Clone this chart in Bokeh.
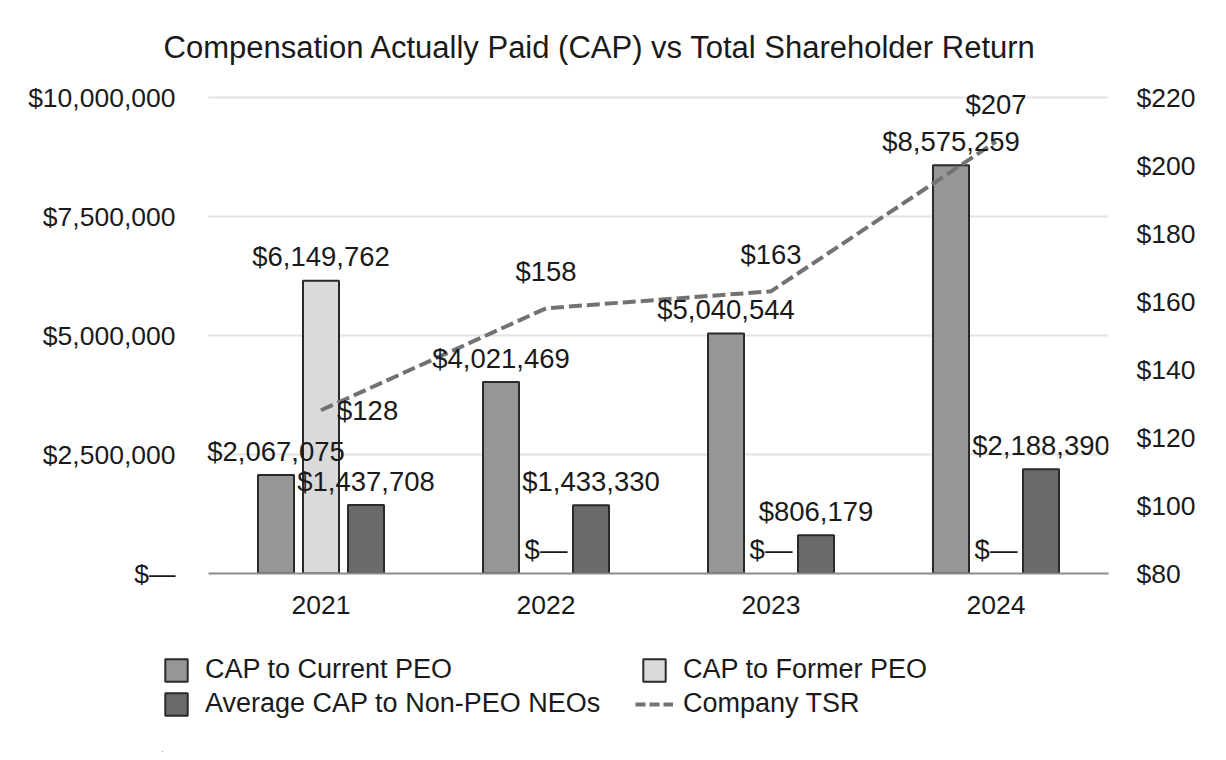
from bokeh.plotting import figure
from bokeh.layouts import column
from bokeh.models import (ColumnDataSource, Range1d, LinearAxis,
                          FixedTicker, Legend, LegendItem)
from bokeh.transform import dodge
from bokeh.core.properties import value
from bokeh.embed import file_html
from bokeh.resources import INLINE

# ---------------- data ----------------
years = ["2021", "2022", "2023", "2024"]
cap_current = [2067075, 4021469, 5040544, 8575259]
cap_former = [6149762, 0, 0, 0]
cap_nonpeo = [1437708, 1433330, 806179, 2188390]
tsr = [128, 158, 163, 207]

left_ticks = [0, 2500000, 5000000, 7500000, 10000000]
left_tick_labels = ["$\u2014", "$2,500,000", "$5,000,000", "$7,500,000", "$10,000,000"]
right_ticks = [80, 100, 120, 140, 160, 180, 200, 220]
right_tick_labels = ["$80", "$100", "$120", "$140", "$160", "$180", "$200", "$220"]

series_names = ["CAP to Current PEO", "CAP to Former PEO",
                "Average CAP to Non-PEO NEOs", "Company TSR"]

TITLE = "Compensation Actually Paid (CAP) vs Total Shareholder Return"
FONT = "Liberation Sans"
TXT = "#1a1a1a"
C_CUR, C_FORMER, C_NON, C_TSR, OUT = "#969696", "#dadada", "#6a6a6a", "#727272", "#2a2a2a"


def money(v):
    return "$\u2014" if v == 0 else "${:,}".format(v)


# category centres on a numeric axis (one unit per year)
xc = [i + 0.5 for i in range(len(years))]
n_cat = len(years)

src = ColumnDataSource(dict(
    xc=xc,
    cur=cap_current, cur_lbl=[money(v) for v in cap_current],
    former=cap_former, former_lbl=[money(v) for v in cap_former],
    non=cap_nonpeo, non_lbl=[money(v) for v in cap_nonpeo],
    tsr=tsr, tsr_lbl=["$%d" % v for v in tsr],
))
former_nz = [(x, v) for x, v in zip(xc, cap_former) if v > 0]
src_former_bars = ColumnDataSource(dict(xc=[a for a, _ in former_nz],
                                        former=[b for _, b in former_nz]))
src_tsr_first = ColumnDataSource(dict(xc=xc[:1], tsr=tsr[:1],
                                      tsr_lbl=["$%d" % v for v in tsr[:1]]))
src_tsr_rest = ColumnDataSource(dict(xc=xc[1:], tsr=tsr[1:],
                                     tsr_lbl=["$%d" % v for v in tsr[1:]]))
src_grid = ColumnDataSource(dict(y=left_ticks[1:]))

# ---------------- main figure ----------------
left_top = 10000000 * 145 / 140
x_start = -46 / 225  # frame reaches a little left of the first category (room for legend)
p = figure(width=1218, height=640, output_backend="svg", toolbar_location=None,
           x_range=Range1d(x_start, n_cat), y_range=Range1d(0, left_top),
           min_border_left=162, min_border_right=110,
           min_border_top=80, min_border_bottom=67)
p.extra_y_ranges = {"tsr": Range1d(80, 225)}
p.outline_line_color = None

p.title.text = TITLE
p.title.text_font = FONT
p.title.text_font_size = "31px"
p.title.text_font_style = "normal"
p.title.text_color = TXT
p.title.align = "left"
p.title.offset = 1
p.title.standoff = 32

AX = "26.5px"
p.yaxis.ticker = FixedTicker(ticks=left_ticks)
p.yaxis.major_label_overrides = dict(zip(left_ticks, left_tick_labels))
p.yaxis.axis_line_color = None
p.yaxis.major_tick_line_color = None
p.yaxis.minor_tick_line_color = None
p.yaxis.major_tick_out = 0
p.yaxis.major_tick_in = 0
p.yaxis.major_label_standoff = -13
p.yaxis.major_label_text_font = FONT
p.yaxis.major_label_text_font_size = AX
p.yaxis.major_label_text_color = TXT

raxis = LinearAxis(y_range_name="tsr", ticker=FixedTicker(ticks=right_ticks))
raxis.major_label_overrides = dict(zip(right_ticks, right_tick_labels))
raxis.axis_line_color = None
raxis.major_tick_line_color = None
raxis.minor_tick_line_color = None
raxis.major_tick_out = 0
raxis.major_tick_in = 0
raxis.major_label_standoff = 28
raxis.major_label_text_font = FONT
raxis.major_label_text_font_size = AX
raxis.major_label_text_color = TXT
p.add_layout(raxis, "right")

p.xaxis.ticker = FixedTicker(ticks=xc)
p.xaxis.major_label_overrides = dict(zip(xc, years))
p.xaxis.bounds = (0, n_cat)
p.xaxis.axis_line_color = "#8c8c8c"
p.xaxis.axis_line_width = 2
p.xaxis.major_tick_line_color = None
p.xaxis.minor_tick_line_color = None
p.xaxis.major_tick_out = 0
p.xaxis.major_tick_in = 0
p.xaxis.major_label_standoff = 22
p.xaxis.major_label_text_font = FONT
p.xaxis.major_label_text_font_size = AX
p.xaxis.major_label_text_color = TXT

p.xgrid.grid_line_color = None
p.ygrid.grid_line_color = None
# horizontal gridlines at the left-axis ticks, spanning the category area
p.segment(x0=0, x1=n_cat, y0="y", y1="y", source=src_grid,
          line_color="#e3e3e3", line_width=2)

BW = 0.16
p.vbar(x=dodge("xc", -0.2), top="cur", width=BW, source=src,
       fill_color=C_CUR, line_color=OUT, line_width=2)
p.vbar(x=dodge("xc", 0.0), top="former", width=BW, source=src_former_bars,
       fill_color=C_FORMER, line_color=OUT, line_width=2)
p.vbar(x=dodge("xc", 0.2), top="non", width=BW, source=src,
       fill_color=C_NON, line_color=OUT, line_width=2)

p.line(x="xc", y="tsr", y_range_name="tsr", source=src,
       line_color=C_TSR, line_width=4, line_dash="13 5")

LBL = "27.5px"
lbl_kw = dict(text_font=value(FONT), text_font_size=LBL, text_color=TXT,
              text_align="center", text_baseline="alphabetic", y_offset=-24)
p.text(x=dodge("xc", -0.2), y="cur", text="cur_lbl", source=src, **lbl_kw)
p.text(x=dodge("xc", 0.0), y="former", text="former_lbl", source=src, **lbl_kw)
p.text(x=dodge("xc", 0.2), y="non", text="non_lbl", source=src, **lbl_kw)

p.text(x="xc", y="tsr", text="tsr_lbl", source=src_tsr_first, y_range_name="tsr",
       text_font=value(FONT), text_font_size=LBL, text_color=TXT,
       text_align="left", text_baseline="middle", x_offset=16, y_offset=0)
p.text(x="xc", y="tsr", text="tsr_lbl", source=src_tsr_rest, y_range_name="tsr",
       text_font=value(FONT), text_font_size=LBL, text_color=TXT,
       text_align="center", text_baseline="middle", y_offset=-37)

# ---------------- legend strip ----------------
p2 = figure(width=1218, height=112, output_backend="svg", toolbar_location=None,
            x_range=Range1d(0, 1), y_range=Range1d(0, 1),
            x_axis_type=None, y_axis_type=None,
            min_border_left=162, min_border_right=110, min_border_top=0, min_border_bottom=0)
p2.outline_line_color = None
p2.xgrid.grid_line_color = None
p2.ygrid.grid_line_color = None

# legend swatches (their data sits far outside the strip's visible range)
g_cur = p2.vbar(x=[-50], bottom=[-50], top=[-40], width=0.1,
                fill_color=C_CUR, line_color=OUT, line_width=2)
g_former = p2.vbar(x=[-50], bottom=[-50], top=[-40], width=0.1,
                   fill_color=C_FORMER, line_color=OUT, line_width=2)
g_non = p2.vbar(x=[-50], bottom=[-50], top=[-40], width=0.1,
                fill_color=C_NON, line_color=OUT, line_width=2)
g_tsr = p2.line(x=[-50, -49], y=[-50, -50], line_color=C_TSR, line_width=4,
                line_dash="10 4")


def make_legend(items, loc, glyph_w=28, standoff=15):
    lg = Legend(items=items, location=loc, orientation="vertical")
    lg.label_text_font = FONT
    lg.label_text_font_size = "27px"
    lg.label_text_color = TXT
    lg.glyph_width = glyph_w
    lg.glyph_height = 28
    lg.label_height = 28
    lg.label_standoff = standoff
    lg.spacing = 3
    lg.padding = 0
    lg.margin = 0
    lg.border_line_color = None
    lg.background_fill_alpha = 0
    return lg


leg1 = make_legend([LegendItem(label=series_names[0], renderers=[g_cur]),
                    LegendItem(label=series_names[2], renderers=[g_non])], (0, 33))
leg2 = make_legend([LegendItem(label=series_names[1], renderers=[g_former])], (478, 67))
leg3 = make_legend([LegendItem(label=series_names[3], renderers=[g_tsr])], (473, 33),
                   glyph_w=38, standoff=10)
p2.add_layout(leg1)
p2.add_layout(leg2)
p2.add_layout(leg3)

layout = column(p, p2, spacing=0)
open("out.html", "w").write(file_html(layout, INLINE))
